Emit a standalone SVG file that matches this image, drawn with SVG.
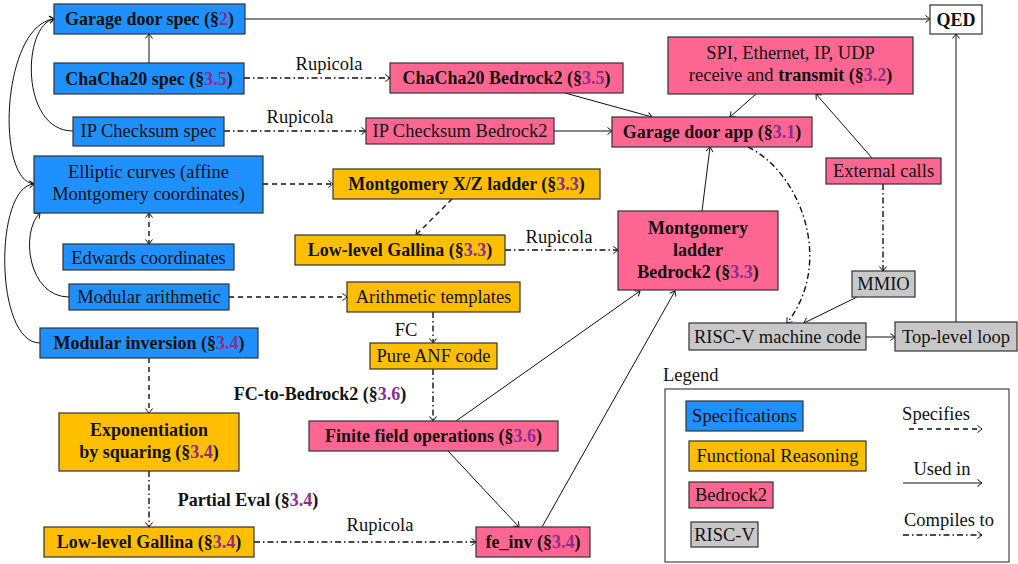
<svg xmlns="http://www.w3.org/2000/svg" width="1018" height="564" viewBox="0 0 1018 564" font-family="'Liberation Serif', 'DejaVu Serif', serif">
<defs>
<marker id="ah" viewBox="-6 -5 7 10" markerWidth="7" markerHeight="10" refX="0" refY="0" orient="auto" markerUnits="userSpaceOnUse">
<path d="M-4.5,-3.5 Q-1.2,-1 0,0 Q-1.2,1 -4.5,3.5" fill="none" stroke="#111" stroke-width="1"/>
</marker>
<marker id="ahs" viewBox="-6 -5 7 10" markerWidth="7" markerHeight="10" refX="0" refY="0" orient="auto-start-reverse" markerUnits="userSpaceOnUse">
<path d="M-4.5,-3.5 Q-1.2,-1 0,0 Q-1.2,1 -4.5,3.5" fill="none" stroke="#111" stroke-width="1"/>
</marker>
</defs>
<style>
text{font-family:'Liberation Serif','DejaVu Serif',serif;font-size:18.5px;fill:#111}
.b{font-weight:bold;font-size:18px}
.s{fill:#8A2D8E}
.box rect{stroke:#333;stroke-width:1.2}
.spec{fill:#1E90FF}
.fun{fill:#FFBF00}
.br{fill:#FF6692}
.rv{fill:#C8C8C8}
.w{fill:#fff}
.e{fill:none;stroke:#111;stroke-width:1;marker-end:url(#ah)}
.d{stroke-dasharray:5 4;stroke-width:1.4}
.dd{stroke-dasharray:6 3 1.5 3;stroke-width:1.4}
</style>
<rect width="1018" height="564" fill="#fff"/>

<g id="connectors">
<path class="e" d="M245,19 H930"/>
<path class="e" d="M149,63 V34"/>
<path class="e" d="M73,131 C20,131 22,25 54,19"/>
<path class="e" d="M34,184 C-5,180 2,25 54,19"/>
<path class="e" d="M40,343 C-6,343 -6,186 34,184"/>
<path class="e" d="M69,297 C28,297 20,232 40,213"/>
<path class="e dd" d="M244,78 H390"/>
<path class="e dd" d="M224,131 H366"/>
<path class="e" d="M565,93 L652,117"/>
<path class="e" d="M554,131 H612"/>
<path class="e" d="M756,94 L730,117"/>
<path class="e" d="M872,158 L816,94"/>
<path class="e dd" d="M883,184 V271"/>
<path class="e" d="M857,297 L804,323"/>
<path class="e dd" d="M748,147 C800,172 835,262 787,323"/>
<path class="e" d="M866,337 H895"/>
<path class="e" d="M956,322 V34"/>
<path class="e" d="M702,211 L710,147"/>
<path class="e d" d="M263,184 H333"/>
<path class="e d" d="M452,199 L416,235"/>
<path class="e dd" d="M505,250 H618"/>
<path class="e d" d="M229,297 H347"/>
<path class="d" fill="none" stroke="#111" marker-start="url(#ahs)" marker-end="url(#ah)" d="M149,213 V244"/>
<path class="e dd" d="M433,312 V343"/>
<path class="e dd" d="M433,369 V421"/>
<path class="e" d="M456,421 L640,291"/>
<path class="e" d="M542,527 L675,291"/>
<path class="e" d="M448,451 L519,527"/>
<path class="e d" d="M149,358 V413"/>
<path class="e dd" d="M149,471 V527"/>
<path class="e dd" d="M254,542 H476"/>
<text x="329" y="70" text-anchor="middle">Rupicola</text>
<text x="300" y="123" text-anchor="middle">Rupicola</text>
<text x="559" y="243" text-anchor="middle">Rupicola</text>
<text x="380" y="531" text-anchor="middle">Rupicola</text>
<text x="406" y="336" text-anchor="middle">FC</text>
<text x="320" y="400" text-anchor="middle" class="b">FC-to-Bedrock2 (§<tspan class="s">3.6</tspan>)</text>
<text x="248" y="506" text-anchor="middle" class="b">Partial Eval (§<tspan class="s">3.4</tspan>)</text>
</g>

<g id="garage-spec" class="box"><rect class="spec" x="54" y="4" width="191" height="30"/><text x="149.5" y="25" text-anchor="middle" class="b">Garage door spec (§<tspan class="s">2</tspan>)</text></g>
<g id="chacha-spec" class="box"><rect class="spec" x="54" y="63" width="190" height="31"/><text x="149" y="85" text-anchor="middle" class="b">ChaCha20 spec (§<tspan class="s">3.5</tspan>)</text></g>
<g id="ip-spec" class="box"><rect class="spec" x="73" y="117" width="151" height="29"/><text x="148.5" y="137" text-anchor="middle">IP Checksum spec</text></g>
<g id="elliptic" class="box"><rect class="spec" x="34" y="156" width="229" height="57"/><text x="148.5" y="178" text-anchor="middle">Elliptic curves (affine</text><text x="148.5" y="200" text-anchor="middle">Montgomery coordinates)</text></g>
<g id="edwards" class="box"><rect class="spec" x="63" y="244" width="171" height="26"/><text x="148.5" y="264" text-anchor="middle">Edwards coordinates</text></g>
<g id="modarith" class="box"><rect class="spec" x="69" y="284" width="160" height="26"/><text x="149" y="303" text-anchor="middle">Modular arithmetic</text></g>
<g id="modinv" class="box"><rect class="spec" x="40" y="328" width="218" height="30"/><text x="149" y="349" text-anchor="middle" class="b">Modular inversion (§<tspan class="s">3.4</tspan>)</text></g>
<g id="expo" class="box"><rect class="fun" x="59" y="413" width="180" height="58"/><text x="149" y="436" text-anchor="middle" class="b">Exponentiation</text><text x="149" y="458" text-anchor="middle" class="b">by squaring (§<tspan class="s">3.4</tspan>)</text></g>
<g id="llg34" class="box"><rect class="fun" x="44" y="527" width="210" height="30"/><text x="149" y="548" text-anchor="middle" class="b">Low-level Gallina (§<tspan class="s">3.4</tspan>)</text></g>
<g id="feinv" class="box"><rect class="br" x="476" y="527" width="114" height="30"/><text x="533" y="548" text-anchor="middle" class="b">fe_inv (§<tspan class="s">3.4</tspan>)</text></g>
<g id="ffops" class="box"><rect class="br" x="309" y="421" width="249" height="30"/><text x="433.5" y="442" text-anchor="middle" class="b">Finite field operations (§<tspan class="s">3.6</tspan>)</text></g>
<g id="anf" class="box"><rect class="fun" x="370" y="343" width="127" height="26"/><text x="433.5" y="362" text-anchor="middle">Pure ANF code</text></g>
<g id="templates" class="box"><rect class="fun" x="347" y="282" width="173" height="30"/><text x="433.5" y="303" text-anchor="middle">Arithmetic templates</text></g>
<g id="llg33" class="box"><rect class="fun" x="295" y="235" width="210" height="30"/><text x="400" y="256" text-anchor="middle" class="b">Low-level Gallina (§<tspan class="s">3.3</tspan>)</text></g>
<g id="montxz" class="box"><rect class="fun" x="333" y="169" width="267" height="30"/><text x="466.5" y="190" text-anchor="middle" class="b">Montgomery X/Z ladder (§<tspan class="s">3.3</tspan>)</text></g>
<g id="montb2" class="box"><rect class="br" x="618" y="211" width="160" height="79"/><text x="698" y="234" text-anchor="middle" class="b">Montgomery</text><text x="698" y="256" text-anchor="middle" class="b">ladder</text><text x="698" y="278" text-anchor="middle" class="b">Bedrock2 (§<tspan class="s">3.3</tspan>)</text></g>
<g id="chachab2" class="box"><rect class="br" x="390" y="63" width="233" height="30"/><text x="506.5" y="84" text-anchor="middle" class="b">ChaCha20 Bedrock2 (§<tspan class="s">3.5</tspan>)</text></g>
<g id="ipb2" class="box"><rect class="br" x="366" y="118" width="188" height="26"/><text x="460" y="137" text-anchor="middle">IP Checksum Bedrock2</text></g>
<g id="app" class="box"><rect class="br" x="612" y="117" width="200" height="30"/><text x="712" y="138" text-anchor="middle" class="b">Garage door app (§<tspan class="s">3.1</tspan>)</text></g>
<g id="spi" class="box"><rect class="br" x="668" y="37" width="245" height="57"/><text x="790.5" y="59" text-anchor="middle">SPI, Ethernet, IP, UDP</text><text x="790.5" y="81" text-anchor="middle">receive and <tspan class="b">transmit (§<tspan class="s">3.2</tspan>)</tspan></text></g>
<g id="qed" class="box"><rect class="w" x="930" y="5" width="52" height="29"/><text x="956" y="26" text-anchor="middle" class="b">QED</text></g>
<g id="extcalls" class="box"><rect class="br" x="826" y="158" width="115" height="26"/><text x="883.5" y="177" text-anchor="middle">External calls</text></g>
<g id="mmio" class="box"><rect class="rv" x="852" y="271" width="63" height="26"/><text x="883.5" y="290" text-anchor="middle">MMIO</text></g>
<g id="riscv" class="box"><rect class="rv" x="689" y="323" width="177" height="27"/><text x="777.5" y="343" text-anchor="middle">RISC-V machine code</text></g>
<g id="toploop" class="box"><rect class="rv" x="895" y="322" width="122" height="29"/><text x="956" y="343" text-anchor="middle">Top-level loop</text></g>

<g id="legend">
<text x="663" y="381">Legend</text>
<rect x="665" y="389" width="344" height="173" fill="none" stroke="#444" stroke-width="1.2"/>
<g class="box"><rect class="spec" x="686" y="401" width="117" height="30"/><text x="744.5" y="422" text-anchor="middle">Specifications</text></g>
<g class="box"><rect class="fun" x="689" y="441" width="177" height="30"/><text x="777.5" y="462" text-anchor="middle">Functional Reasoning</text></g>
<g class="box"><rect class="br" x="689" y="482" width="84" height="26"/><text x="731" y="501" text-anchor="middle">Bedrock2</text></g>
<g class="box"><rect class="rv" x="691" y="522" width="67" height="25"/><text x="724.5" y="541" text-anchor="middle">RISC-V</text></g>
<text x="936" y="420" text-anchor="middle">Specifies</text>
<path class="e d" d="M909,429 H982"/>
<text x="942" y="475" text-anchor="middle">Used in</text>
<path class="e" d="M903,483 H982"/>
<text x="949" y="526" text-anchor="middle">Compiles to</text>
<path class="e dd" d="M903,535 H982"/>
</g>
</svg>
